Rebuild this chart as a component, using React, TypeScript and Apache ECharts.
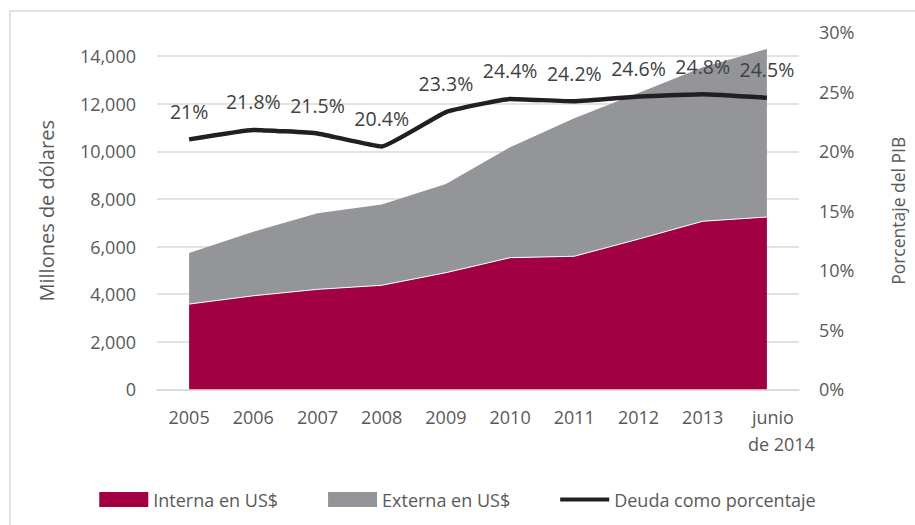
import React, { useEffect, useRef } from "react";
import * as echarts from "echarts";

const categories = ["2005", "2006", "2007", "2008", "2009", "2010", "2011", "2012", "2013", "junio de 2014"];
const interna = [3580, 3930, 4200, 4370, 4900, 5530, 5590, 6310, 7060, 7240];
const externa = [2150, 2690, 3200, 3390, 3730, 4640, 5800, 6140, 6470, 7060];
const porcentaje = [21, 21.8, 21.5, 20.4, 23.3, 24.4, 24.2, 24.6, 24.8, 24.5];

const FONT = "'Open Sans', 'Noto Sans', sans-serif";
const TXT = "#595959";
const LINE_ICON =
  "path://M0,0 L49,0 L49,0.01 L0,0.01 Z M0,5.5 L49,5.5 L49,9.5 L0,9.5 Z M0,14.99 L49,14.99 L49,15 L0,15 Z";

export default function App() {
  const ref = useRef<HTMLDivElement>(null);
  useEffect(() => {
    if (!ref.current) return;
    const chart = echarts.init(ref.current, null, { renderer: "svg" });
    chart.setOption({
      animation: false,
      textStyle: { fontFamily: FONT },
      graphic: [
        {
          type: "rect",
          shape: { x: 10, y: 11, width: 1000, height: 1000 },
          style: { fill: "none", stroke: "#d9d9d9", lineWidth: 1.5 },
          silent: true,
        },
      ],
      grid: { left: 157, right: 109, top: 32.3, bottom: 135.7 },
      legend: {
        left: "center",
        top: 484,
        itemWidth: 49,
        itemHeight: 15,
        itemGap: 50,
        textStyle: { fontFamily: FONT, fontSize: 18, color: TXT, lineHeight: 21 },
        data: [
          { name: "Interna en US$", icon: "rect" },
          { name: "Externa en US$", icon: "rect" },
          { name: "Deuda como porcentaje", icon: LINE_ICON },
        ],
      },
      xAxis: {
        type: "category",
        data: categories,
        boundaryGap: true,
        axisLine: { lineStyle: { color: "#d9d9d9", width: 1.5 } },
        axisTick: { show: false },
        axisLabel: {
          interval: 0,
          margin: 14,
          fontFamily: FONT,
          fontSize: 18,
          color: TXT,
          lineHeight: 27,
          formatter: (v: string) =>
            v === "junio de 2014" ? "{a|junio}\n{b|de 2014}" : v,
          rich: {
            a: { padding: [0, 0, 0, 12], fontFamily: FONT, fontSize: 18, color: TXT, lineHeight: 27 },
            b: { padding: [0, 0, 0, 29], fontFamily: FONT, fontSize: 18, color: TXT, lineHeight: 27 },
          },
        },
      },
      yAxis: [
        {
          type: "value",
          min: 0,
          max: 15000,
          interval: 2000,
          name: "Millones de dólares",
          nameLocation: "middle",
          nameRotate: 90,
          nameGap: 101,
          nameTextStyle: { fontFamily: FONT, fontSize: 20, color: TXT },
          axisLine: { show: false },
          axisTick: { show: false },
          splitLine: { show: true, showMaxLine: false, lineStyle: { color: "#d9d9d9", width: 1.5 } },
          axisLabel: {
            showMaxLabel: false,
            margin: 21,
            fontFamily: FONT,
            fontSize: 18,
            color: TXT,
            formatter: (v: number) => (v === 15000 ? "" : v.toLocaleString("en-US")),
          },
        },
        {
          type: "value",
          min: 0,
          max: 30,
          interval: 5,
          name: "Porcentaje del PIB",
          nameLocation: "middle",
          nameRotate: 90,
          nameGap: 90,
          nameTextStyle: { fontFamily: FONT, fontSize: 17.5, color: TXT },
          axisLine: { show: false },
          axisTick: { show: false },
          splitLine: { show: false },
          axisLabel: {
            margin: 20,
            fontFamily: FONT,
            fontSize: 18,
            color: TXT,
            formatter: "{value}%",
          },
        },
      ],
      series: [
        {
          name: "Interna en US$",
          type: "line",
          stack: "deuda",
          data: interna,
          symbol: "none",
          itemStyle: { color: "#A10043" },
          lineStyle: { width: 1, color: "#ffffff" },
          areaStyle: { color: "#A10043", opacity: 1 },
          emphasis: { disabled: true },
        },
        {
          name: "Externa en US$",
          type: "line",
          stack: "deuda",
          data: externa,
          symbol: "none",
          itemStyle: { color: "#939598" },
          lineStyle: { width: 0 },
          areaStyle: { color: "#939598", opacity: 1 },
          emphasis: { disabled: true },
        },
        {
          name: "Deuda como porcentaje",
          type: "line",
          yAxisIndex: 1,
          data: porcentaje,
          symbol: "circle",
          symbolSize: 0.1,
          showSymbol: true,
          smooth: 0.1,
          itemStyle: { color: "#231F20" },
          lineStyle: { width: 4.5, color: "#231F20" },
          emphasis: { disabled: true },
          label: {
            show: true,
            position: "top",
            distance: 18,
            fontFamily: FONT,
            fontSize: 19.5,
            color: "#404040",
            formatter: (p: any) => p.value + "%",
          },
        },
      ],
    });
    return () => chart.dispose();
  }, []);
  return (
    <div
      ref={ref}
      style={{ position: "fixed", left: 0, top: 0, width: 915, height: 525, background: "#fff" }}
    />
  );
}
